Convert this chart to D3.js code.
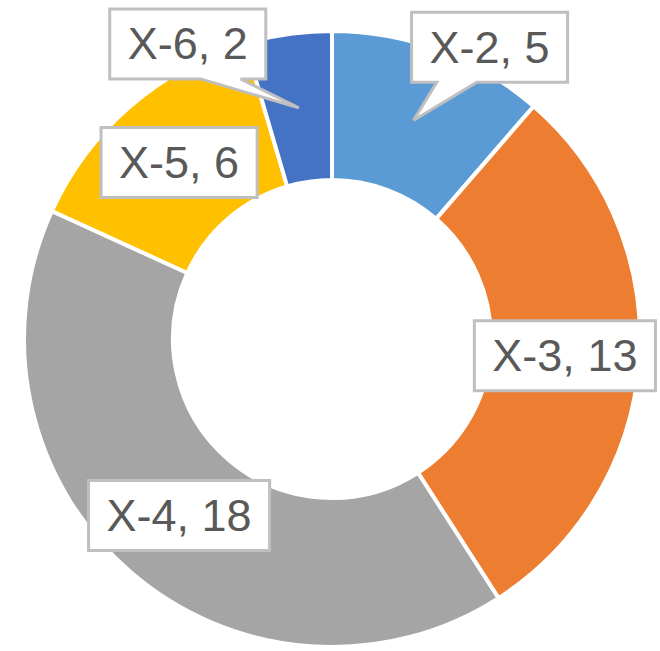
<!DOCTYPE html>
<html>
<head>
<meta charset="utf-8">
<script src="https://cdn.jsdelivr.net/npm/d3@7"></script>
<style>
  html, body { margin: 0; padding: 0; background: #fff; }
  svg { display: block; }
</style>
</head>
<body>
<svg id="chart" width="660" height="651"></svg>
<script>
// Data
const categories = ["X-2", "X-3", "X-4", "X-5", "X-6"];
const values = [5, 13, 18, 6, 2];
const colors = ["#5B9BD5", "#ED7D31", "#A5A5A5", "#FFC000", "#4472C4"];
// label box offsets from slice centroid (callouts for moved labels)
const labelOffsets = [[76, -73], [0, 0], [0, 0], [0, 0], [-111, -64]];
const callout = [true, false, false, false, true];

const W = 660, H = 651;
const cx = 332, cy = 339;
const outerR = 308, innerR = 159;

const svg = d3.select("#chart");
const g = svg.append("g").attr("transform", `translate(${cx},${cy})`);

const data = categories.map((c, i) => ({ cat: c, value: values[i], i }));
const pie = d3.pie().value(d => d.value).sort(null).startAngle(0).endAngle(2 * Math.PI);
const arcs = pie(data);
const arc = d3.arc().innerRadius(innerR).outerRadius(outerR);
const labelArc = d3.arc().innerRadius(innerR).outerRadius(outerR);

g.selectAll("path.slice")
  .data(arcs)
  .join("path")
  .attr("class", "slice")
  .attr("d", arc)
  .attr("fill", d => colors[d.data.i])
  .attr("stroke", "#fff")
  .attr("stroke-width", 4)
  .attr("stroke-linejoin", "miter");

const fontSize = 45;
const padX = 18, boxH = 70;

const labels = g.selectAll("g.label").data(arcs).join("g").attr("class", "label");

labels.each(function(d) {
  const sel = d3.select(this);
  const [mx, my] = labelArc.centroid(d);
  const off = labelOffsets[d.data.i];
  const bx = mx + off[0], by = my + off[1];
  const txt = sel.append("text")
    .attr("x", bx).attr("y", by)
    .attr("text-anchor", "middle")
    .attr("dominant-baseline", "central")
    .attr("font-family", "'Liberation Sans', Arial, sans-serif")
    .attr("font-size", fontSize)
    .attr("fill", "#595959")
    .text(`${d.data.cat}, ${d.data.value}`);
  const tw = txt.node().getComputedTextLength();
  const w = tw + 2 * padX;
  const left = bx - w / 2, right = bx + w / 2, top = by - boxH / 2, bottom = by + boxH / 2;
  let p;
  if (callout[d.data.i]) {
    const baseW = 40;
    const bc = mx < bx ? left + w * 0.29 : right - w * 0.29;
    p = `M${left},${top}H${right}V${bottom}H${bc + baseW / 2}L${mx},${my}L${bc - baseW / 2},${bottom}H${left}Z`;
  } else {
    p = `M${left},${top}H${right}V${bottom}H${left}Z`;
  }
  sel.insert("path", "text")
    .attr("d", p)
    .attr("fill", "#fff")
    .attr("stroke", "#BFBFBF")
    .attr("stroke-width", 3)
    .attr("stroke-linejoin", "miter");
});
</script>
</body>
</html>
